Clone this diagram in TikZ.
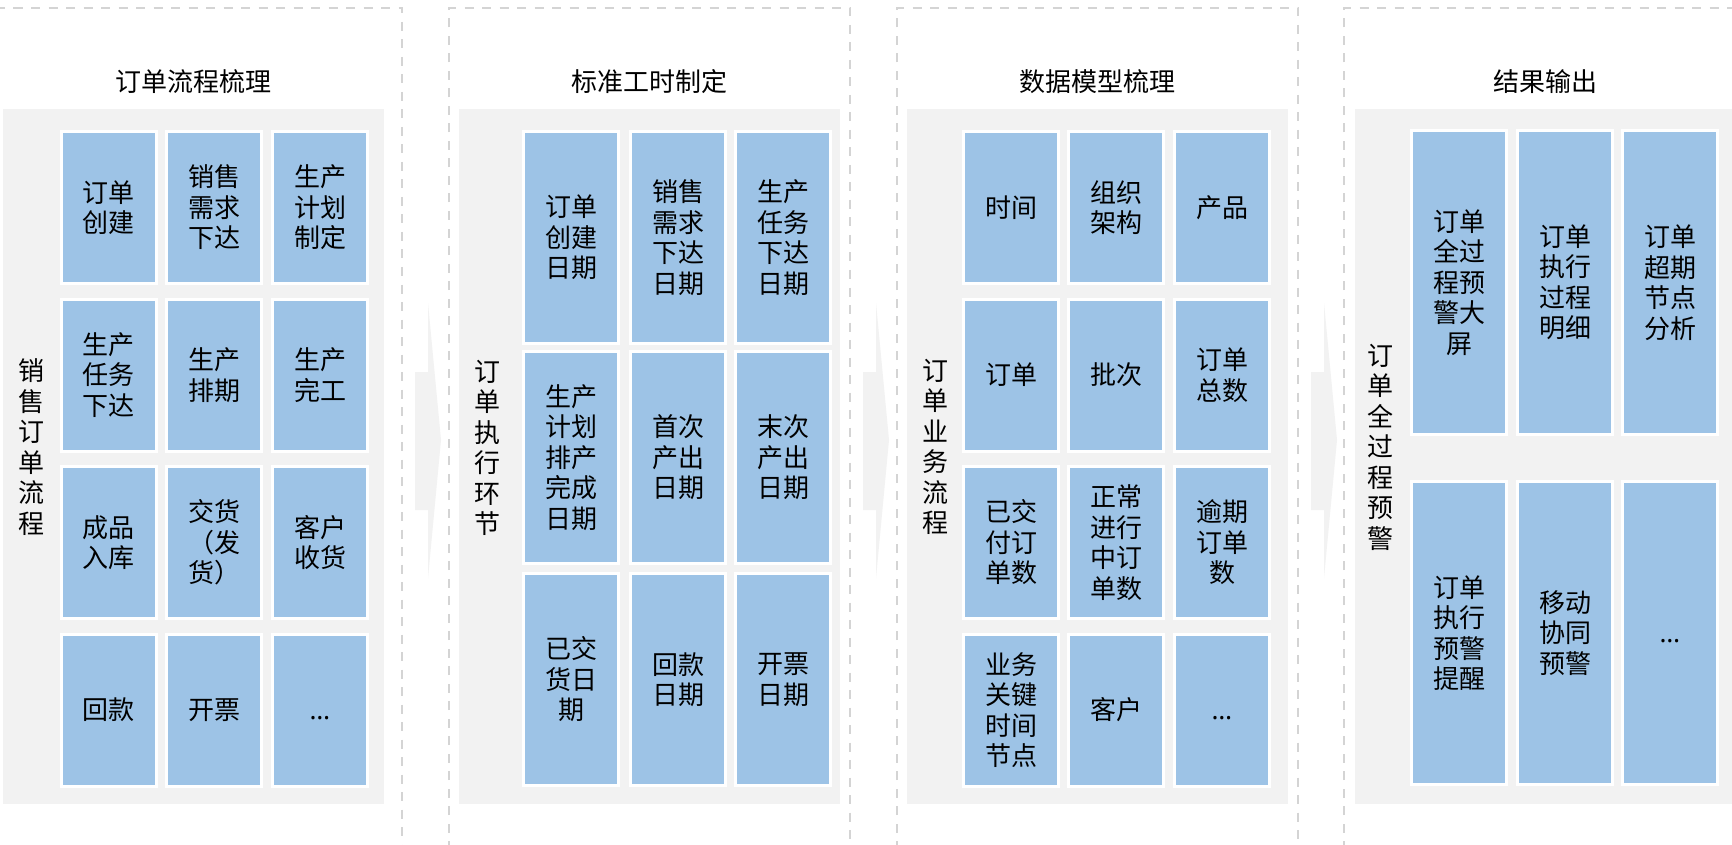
\documentclass[tikz,border=0pt]{standalone}
\usepackage{fontspec}
\setmainfont{Noto Sans CJK SC}
\newfontfamily\latinfont{Noto Sans}
\definecolor{boxblue}{HTML}{9DC3E6}
\definecolor{panelgray}{HTML}{F2F2F2}
\definecolor{dashgray}{HTML}{D4D4D4}
\newcommand\cellfont{\fontsize{26pt}{30.5pt}\selectfont}
\newcommand\myellipsis{\vphantom{订}{\latinfont …}}
\begin{document}
\begin{tikzpicture}[x=1pt,y=-1pt,
  cell/.style={draw=white, line width=3pt, fill=boxblue, inner sep=0pt, align=center, font=\cellfont, text=black, minimum width=95pt},
  cellA/.style={cell, minimum height=152pt},
  cellB/.style={cell, minimum height=212pt},
  cellD/.style={cell, minimum height=303pt},
  panel/.style={fill=panelgray, draw=none, inner sep=0pt, minimum width=381pt, minimum height=695pt},
  title/.style={font=\cellfont, text=black, inner sep=0pt},
  side/.style={font=\cellfont, text=black, align=center, inner sep=0pt},
  dashline/.style={draw=dashgray, line width=2.3pt, dash pattern=on 9pt off 8.5pt},
  chev/.style={fill=panelgray, draw=none}
]
\useasboundingbox (0,0) rectangle (1732,845);
\fill[white] (0,0) rectangle (1732,845);

% dashed frames
\draw[dashline] (-2,850) -- (-2,8) -- (402,8) -- (402,850);
\draw[dashline] (449,850) -- (449,8) -- (850,8) -- (850,850);
\draw[dashline] (897,850) -- (897,8) -- (1298,8) -- (1298,850);
\draw[dashline] (1344,850) -- (1344,8) -- (1745,8) -- (1745,850);

% chevrons
\foreach \d in {402,850,1298}{
  \fill[chev] (\d+13,372) -- (\d+26,372) -- (\d+26,303) -- (\d+39,440) -- (\d+26,578) -- (\d+26,510) -- (\d+13,510) -- cycle;
}

% gray panels
\node[panel] (p1) at (193.5,456.5) {};
\node[panel] (p2) at (649.5,456.5) {};
\node[panel] (p3) at (1097,456.5) {};
\node[panel] (p4) at (1545,456.5) {};

% titles
\node[title] (t1) at (193.5,82) {订单流程梳理};
\node[title] (t2) at (649.5,82) {标准工时制定};
\node[title] (t3) at (1097,82) {数据模型梳理};
\node[title] (t4) at (1545,82) {结果输出};

% side labels
\node[side] (s1) at (31,447) {销\\售\\订\\单\\流\\程};
\node[side] (s2) at (487,448) {订\\单\\执\\行\\环\\节};
\node[side] (s3) at (935,447) {订\\单\\业\\务\\流\\程};
\node[side] (s4) at (1380,447) {订\\单\\全\\过\\程\\预\\警};

% panel 1
\node[cellA] (a11) at (108.5,207.5) {订单\\创建};
\node[cellA] (a12) at (214,207.5) {销售\\需求\\下达};
\node[cellA] (a13) at (320,207.5) {生产\\计划\\制定};
\node[cellA] (a21) at (108.5,375) {生产\\任务\\下达};
\node[cellA] (a22) at (214,375) {生产\\排期};
\node[cellA] (a23) at (320,375) {生产\\完工};
\node[cellA] (a31) at (108.5,542.5) {成品\\入库};
\node[cellA] (a32) at (214,542.5) {交货\\（发\\货）};
\node[cellA] (a33) at (320,542.5) {客户\\收货};
\node[cellA] (a41) at (108.5,710) {回款};
\node[cellA] (a42) at (214,710) {开票};
\node[cellA] (a43) at (320,710) {\myellipsis};

% panel 2
\node[cellB] (b11) at (571,237.5) {订单\\创建\\日期};
\node[cellB] (b12) at (678,237.5) {销售\\需求\\下达\\日期};
\node[cellB] (b13) at (783,237.5) {生产\\任务\\下达\\日期};
\node[cellB] (b21) at (571,457.5) {生产\\计划\\排产\\完成\\日期};
\node[cellB] (b22) at (678,457.5) {首次\\产出\\日期};
\node[cellB] (b23) at (783,457.5) {末次\\产出\\日期};
\node[cellB] (b31) at (571,679.5) {已交\\货日\\期};
\node[cellB] (b32) at (678,679.5) {回款\\日期};
\node[cellB] (b33) at (783,679.5) {开票\\日期};

% panel 3
\node[cellA] (c11) at (1011,207.5) {时间};
\node[cellA] (c12) at (1116,207.5) {组织\\架构};
\node[cellA] (c13) at (1222,207.5) {产品};
\node[cellA] (c21) at (1011,375) {订单};
\node[cellA] (c22) at (1116,375) {批次};
\node[cellA] (c23) at (1222,375) {订单\\总数};
\node[cellA] (c31) at (1011,542.5) {已交\\付订\\单数};
\node[cellA] (c32) at (1116,542.5) {正常\\进行\\中订\\单数};
\node[cellA] (c33) at (1222,542.5) {逾期\\订单\\数};
\node[cellA] (c41) at (1011,710) {业务\\关键\\时间\\节点};
\node[cellA] (c42) at (1116,710) {客户};
\node[cellA] (c43) at (1222,710) {\myellipsis};

% panel 4
\node[cellD] (d11) at (1459,282.5) {订单\\全过\\程预\\警大\\屏};
\node[cellD] (d12) at (1565,282.5) {订单\\执行\\过程\\明细};
\node[cellD] (d13) at (1670,282.5) {订单\\超期\\节点\\分析};
\node[cellD] (d21) at (1459,633) {订单\\执行\\预警\\提醒};
\node[cellD] (d22) at (1565,633) {移动\\协同\\预警};
\node[cellD] (d23) at (1670,633) {\myellipsis};
\end{tikzpicture}
\end{document}
